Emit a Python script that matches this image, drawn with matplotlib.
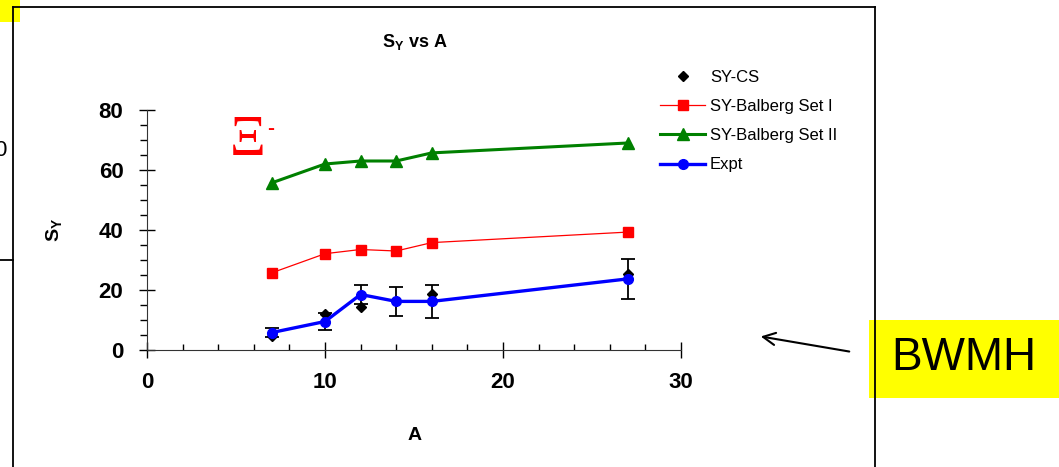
import matplotlib
matplotlib.use("Agg")
import matplotlib.pyplot as plt
from matplotlib.lines import Line2D
from matplotlib.patches import Rectangle

plt.rcParams['font.family'] = ['Liberation Sans', 'DejaVu Sans']
plt.rcParams['mathtext.fontset'] = 'custom'
plt.rcParams['mathtext.rm'] = 'Liberation Sans'
plt.rcParams['mathtext.bf'] = 'Liberation Sans:bold'

# data
A = [7, 10, 12, 14, 16, 27]
sy_cs = [4.7, 12.0, 14.5, 16.3, 18.8, 25.5]
set1 = [25.7, 32.1, 33.5, 33.0, 35.8, 39.3]
set2 = [55.7, 62.0, 63.0, 63.0, 65.7, 69.0]
expt = [5.8, 9.5, 18.5, 16.2, 16.2, 23.7]
expt_err = [1.4, 2.8, 3.2, 4.7, 5.6, 6.8]

W, H = 1059, 467
fig = plt.figure(figsize=(W / 100, H / 100), dpi=100)

def fx(x):
    return x / W

def fy(y):
    return 1 - y / H

ax = fig.add_axes([fx(147), fy(350), fx(681) - fx(147), fy(110) - fy(350)])
ax.patch.set_alpha(0)

ax.plot(A, sy_cs, 'D', color='black', ms=5, label='SY-CS', zorder=2)
ax.plot(A, set1, '-s', color='red', lw=0.9, ms=7, label='SY-Balberg Set I', zorder=3)
ax.plot(A, set2, '-^', color='green', lw=2.2, ms=8, label='SY-Balberg Set II', zorder=3)
ax.errorbar(A, expt, yerr=expt_err, fmt='none', ecolor='black', elinewidth=1.3,
            capsize=5, capthick=1.3, zorder=4)
ax.plot(A, expt, '-o', color='blue', lw=2.4, ms=7, label='Expt', zorder=5)

ax.set_xlim(0, 30)
ax.set_ylim(0, 80)
for s in ['top', 'right']:
    ax.spines[s].set_visible(False)
ax.spines['left'].set_color('#333333')
ax.spines['bottom'].set_color('#333333')

ax.set_xticks([0, 10, 20, 30])
ax.set_xticks(range(0, 31, 2), minor=True)
ax.set_yticks([0, 20, 40, 60, 80])
ax.set_yticks(range(0, 81, 5), minor=True)
ax.tick_params(axis='x', which='major', direction='inout', length=11, width=1,
               labelsize=16, pad=10)
ax.tick_params(axis='x', which='minor', direction='in', length=4.5, width=1)
ax.tick_params(axis='y', which='major', direction='inout', length=12, width=1,
               labelsize=16, pad=11)
ax.tick_params(axis='y', which='minor', direction='out', length=5, width=1)
for t in ax.get_xticklabels() + ax.get_yticklabels():
    t.set_fontweight('bold')

fig.text(fx(415), fy(42), r'S$_\mathbf{Y}$ vs A', ha='center', va='center',
         fontsize=13, fontweight='bold')
fig.text(fx(55), fy(230), r'S$_\mathbf{Y}$', ha='center', va='center',
         fontsize=14, fontweight='bold', rotation=90)
fig.text(fx(415), fy(435), 'A', ha='center', va='center',
         fontsize=14, fontweight='bold')

fig.text(fx(230), fy(141), '\u039e', color='red', ha='left', va='center',
         fontsize=40, family='Liberation Serif')
fig.text(fx(267), fy(128), '-', color='red', ha='left', va='center',
         fontsize=15, fontweight='bold')

fig.legend(loc='upper left', bbox_to_anchor=(fx(645), fy(55)), frameon=False,
           fontsize=12, handlelength=2.7, labelspacing=0.85, handletextpad=0.3)

# slide decorations
for xs, ys in [([13, 13], [7, H]), ([13, 875], [7, 7]), ([875, 875], [7, H]),
               ([0, 13], [260, 260])]:
    fig.add_artist(Line2D([fx(v) for v in xs], [fy(v) for v in ys],
                          color='black', lw=1.3))
fig.add_artist(Rectangle((0, fy(22)), fx(20), 22 / H, color='yellow', lw=0))
fig.add_artist(Rectangle((fx(869), fy(398)), fx(W) - fx(869), 78 / H,
                         color='yellow', lw=0))
fig.text(fx(964), fy(358), 'BWMH', ha='center', va='center', fontsize=33)
fig.text(fx(-6), fy(150), '0', ha='left', va='center', fontsize=16)

ax.annotate('', xy=(758, H - 336), xycoords='figure pixels',
            xytext=(852, H - 352), textcoords='figure pixels',
            arrowprops=dict(arrowstyle='->', lw=1.5, color='black',
                            mutation_scale=22))

fig.savefig('out.png', dpi=100)
